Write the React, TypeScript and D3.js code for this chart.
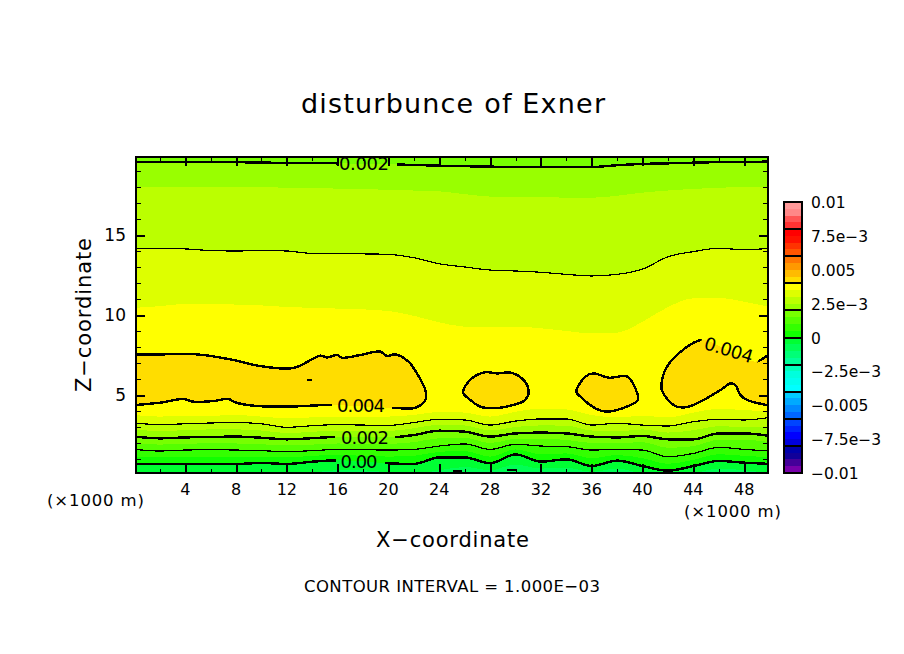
import { useEffect, useRef } from 'react'
import * as d3 from 'd3'

type Pt = [number, number]

// x positions (x1000 m) where the level curves below were read
const xStations = d3.range(0, 51, 2)

// height (z) of each level along xStations
const levelM0005 = [.05, .05, .05, .05, .05, .05, .05, .15, .3, .3, .15, .05, .3, .5, .3, .65, .4, .45, .2, .4, .1, 0, .1, .4, .3, .1]
const level0 = [.69, .69, .69, .69, .69, .75, .69, .83, .92, .85, .73, .69, 1.1, 1.1, .73, 1.29, .83, .98, .56, .9, .56, .27, .56, .88, .77, .69]
const level0005 = [1.15, 1.1, 1.15, 1.15, 1.15, 1.15, 1.1, 1.2, 1.25, 1.2, 1.15, 1.2, 1.45, 1.5, 1.15, 1.6, 1.3, 1.35, 1.05, 1.25, 1.05, .7, .95, 1.3, 1.2, 1.1]
const level001 = [1.6, 1.5, 1.56, 1.58, 1.56, 1.52, 1.46, 1.52, 1.6, 1.58, 1.56, 1.6, 1.81, 1.94, 1.6, 1.92, 1.81, 1.77, 1.56, 1.6, 1.56, 1.14, 1.35, 1.73, 1.6, 1.5]
const level0015 = [2.0, 1.9, 1.95, 1.98, 1.97, 1.92, 1.85, 1.9, 1.97, 1.95, 1.95, 2.05, 2.3, 2.32, 2.0, 2.25, 2.25, 2.2, 2.0, 2.0, 2.05, 1.7, 1.8, 2.2, 2.2, 2.05]
const level002 = [2.4, 2.29, 2.35, 2.38, 2.4, 2.33, 2.23, 2.3, 2.38, 2.36, 2.35, 2.5, 2.77, 2.71, 2.4, 2.6, 2.65, 2.6, 2.4, 2.35, 2.44, 2.23, 2.23, 2.6, 2.6, 2.44]
const level0025 = [2.85, 2.75, 2.8, 2.85, 2.85, 2.78, 2.62, 2.7, 2.78, 2.75, 2.75, 2.92, 3.15, 3.1, 2.78, 3.0, 3.1, 3.08, 2.78, 2.72, 2.85, 2.65, 2.8, 3.05, 3.0, 3.0]
const level003 = [3.25, 3.15, 3.2, 3.25, 3.28, 3.2, 2.98, 3.08, 3.15, 3.12, 3.1, 3.28, 3.48, 3.44, 3.12, 3.37, 3.5, 3.5, 3.12, 3.23, 3.12, 3.06, 3.33, 3.48, 3.44, 3.6]
const level0035 = [3.75, 3.65, 3.7, 3.7, 3.75, 3.65, 3.55, 3.6, 3.65, 3.6, 3.65, 3.75, 3.95, 3.9, 3.65, 3.95, 4.15, 4.1, 3.75, 3.6, 3.7, 3.6, 3.9, 4.15, 4.05, 4.0]

const upper0035 = [10.45, 10.55, 10.7, 10.7, 10.65, 10.6, 10.5, 10.45, 10.4, 10.35, 10.25, 9.95, 9.54, 9.27, 9.23, 9.27, 9.17, 9.0, 8.85, 8.9, 9.58, 10.5, 11.04, 11.08, 10.83, 10.5]
const upper003 = [14.17, 14.17, 14.13, 14.03, 14.0, 14.03, 14.0, 13.85, 13.85, 13.82, 13.79, 13.58, 13.2, 13.0, 12.81, 12.75, 12.67, 12.54, 12.44, 12.54, 12.87, 13.64, 13.96, 14.17, 14.08, 14.17]
const upper0025 = [18.0, 18.0, 18.0, 18.0, 18.0, 17.98, 17.96, 17.93, 17.9, 17.86, 17.83, 17.78, 17.73, 17.55, 17.4, 17.37, 17.35, 17.34, 17.33, 17.45, 17.65, 17.78, 17.88, 17.95, 18.0, 18.0]
const upper002 = [19.58, 19.58, 19.57, 19.56, 19.55, 19.53, 19.5, 19.49, 19.48, 19.45, 19.42, 19.38, 19.33, 19.3, 19.27, 19.26, 19.25, 19.25, 19.25, 19.36, 19.44, 19.48, 19.52, 19.55, 19.55, 19.6]

// 0.004 contours, [x, z]; the first and last run off the plot
const blobLeft: Pt[] = [[-1, 7.54], [2, 7.54], [4.92, 7.54], [7.54, 7.23], [9.9, 6.81], [12.53, 6.69], [14.63, 7.46], [15.16, 7.35], [15.94, 7.5], [16.34, 7.33], [17.78, 7.5], [19.35, 7.71], [19.88, 7.44], [20.54, 7.54], [21.58, 7.08], [22.24, 6.35], [22.9, 5.31], [22.9, 4.69], [22.1, 4.2], [20.28, 4.2], [15.42, 4.375], [12, 4.27], [9.38, 4.33], [7.94, 4.54], [7.41, 4.75], [6.23, 4.625], [4.65, 4.58], [3.87, 4.75], [2.03, 4.52], [-1, 4.31]]
const blobMid1: Pt[] = [[25.87, 5.17], [26.57, 6.04], [27.62, 6.42], [28.54, 6.35], [29.59, 6.4], [30.5, 6.04], [31.03, 5.31], [30.77, 4.69], [29.59, 4.33], [28.28, 4.17], [27.23, 4.27], [26.44, 4.69]]
const blobMid2: Pt[] = [[34.79, 5.2], [35.5, 6.15], [36.15, 6.35], [37.33, 6.08], [38.78, 6.15], [39.43, 5.42], [39.62, 4.69], [38.25, 4.125], [37.07, 3.96], [36.28, 4.17], [35.1, 4.9]]
const blobRight: Pt[] = [[51, 7.75], [49.93, 7.5], [48.88, 7.08], [44.82, 8.44], [44.03, 8.27], [42.19, 7.08], [41.6, 6.15], [41.52, 5.31], [42.58, 4.31], [43.63, 4.27], [46.13, 5.31], [46.92, 5.73], [47.3, 5.63], [47.7, 5], [48.23, 4.69], [51, 4.2]]

// tiny closed contours, x from, x to, z
const specks = [[13.6, 14.0, 5.92], [25.1, 25.8, 0.22], [29.3, 30.0, 0.3]]

const xTicksMajor = d3.range(4, 49, 4)
const xTicksMinor = d3.range(2, 50, 4)
const zTicksMajor = [5, 10, 15]
const zTicksMinor = [1, 2, 3, 4, 6, 7, 8, 9, 11, 12, 13, 14, 16, 17, 18, 19]

const barLevels = d3.range(-0.01, 0.01, 0.0005)
const barColors = [
  '#7700aa', '#440099', '#110099', '#0000aa',
  '#0000dd', '#0000ff', '#0022ff', '#0044ff',
  '#0066ff', '#0088ff', '#00aaff', '#00ccff',
  '#00ffff', '#00ffee', '#00ffdd', '#00ffbb',
  '#00ff99', '#00ff77', '#00ff55', '#00ff33',
  '#11ff00', '#33ff00', '#55ff00', '#77ff00',
  '#99ff00', '#bbff00', '#ddff00', '#ffff00',
  '#ffdd00', '#ffbb00', '#ff9900', '#ff7700',
  '#ff5500', '#ff3300', '#ff1100', '#ff0000',
  '#ff3333', '#ff5555', '#ff8888', '#ff9999',
]
const barTicks = [0.01, 0.0075, 0.005, 0.0025, 0, -0.0025, -0.005, -0.0075, -0.01]
const barTickLabels = ['0.01', '7.5e−3', '0.005', '2.5e−3', '0', '−2.5e−3', '−0.005', '−7.5e−3', '−0.01']

const FONT = '"DejaVu Sans", sans-serif'

export default function App() {
  const svgRef = useRef<SVGSVGElement>(null)

  useEffect(() => {
    const svg = d3.select(svgRef.current)
    svg.selectAll('*').remove()

    const x = d3.scaleLinear().domain([0.125, 49.875]).range([136, 768])
    const z = d3.scaleLinear().domain([0.125, 19.875]).range([473, 157])
    const barY = d3.scaleLinear().domain([-0.01, 0.01]).range([473, 202])
    const color = d3.scaleThreshold<number, string>()
      .domain(barLevels.slice(1).map(d => +d.toFixed(4)))
      .range(barColors)
    const band = (low: number) => color(low + 0.00025)

    const defs = svg.append('defs')
    defs.append('clipPath').attr('id', 'plot').append('rect')
      .attr('x', 136).attr('y', 157).attr('width', 632).attr('height', 316)

    // gaps in the contour lines behind the labels
    const mask = defs.append('mask').attr('id', 'gaps').attr('maskUnits', 'userSpaceOnUse')
      .attr('x', 0).attr('y', 0).attr('width', 904).attr('height', 654)
    mask.append('rect').attr('width', 904).attr('height', 654).attr('fill', '#fff')
    mask.append('rect').attr('x', 332).attr('y', 396).attr('width', 60).attr('height', 18).attr('fill', '#000')
    mask.append('rect').attr('x', 335).attr('y', 429).attr('width', 60).attr('height', 16).attr('fill', '#000')
    mask.append('rect').attr('x', 336).attr('y', 453).attr('width', 49).attr('height', 16).attr('fill', '#000')
    mask.append('rect').attr('x', 337).attr('y', 157).attr('width', 60).attr('height', 14).attr('fill', '#000')
    mask.append('rect').attr('x', 700).attr('y', 342).attr('width', 60).attr('height', 16).attr('fill', '#000')
      .attr('transform', 'rotate(17 730 350)')

    const plot = svg.append('g').attr('clip-path', 'url(#plot)')
    const fills = plot.append('g').attr('shape-rendering', 'crispEdges')

    fills.append('rect').attr('x', 136).attr('y', 157).attr('width', 632).attr('height', 316)
      .attr('fill', band(-0.001))

    const aboveCurve = (vals: number[]) => d3.area<number>()
      .x((_, i) => x(xStations[i]))
      .y0(z(19.875))
      .y1(d => z(d))
      .curve(d3.curveMonotoneX)(vals)

    const lowerBands: [number[], number][] = [
      [levelM0005, -0.0005], [level0, 0], [level0005, 0.0005], [level001, 0.001],
      [level0015, 0.0015], [level002, 0.002], [level0025, 0.0025], [level003, 0.003], [level0035, 0.0035],
    ]
    lowerBands.forEach(([vals, low]) => {
      fills.append('path').attr('d', aboveCurve(vals)).attr('fill', band(low))
    })
    const upperBands: [number[], number][] = [
      [upper0035, 0.003], [upper003, 0.0025], [upper0025, 0.002], [upper002, 0.0015],
    ]
    upperBands.forEach(([vals, low]) => {
      fills.append('path').attr('d', aboveCurve(vals)).attr('fill', band(low))
    })

    const closedLine = d3.line<Pt>().x(d => x(d[0])).y(d => z(d[1])).curve(d3.curveCatmullRomClosed.alpha(0.5))
    const edgeLine = d3.line<Pt>().x(d => x(d[0])).y(d => z(d[1])).curve(d3.curveCatmullRom.alpha(0.5))
    const blobPaths = [edgeLine(blobLeft), closedLine(blobMid1), closedLine(blobMid2), edgeLine(blobRight)]
    blobPaths.forEach(d => {
      fills.append('path').attr('d', d).attr('fill', band(0.004))
    })

    const lines = plot.append('g').attr('mask', 'url(#gaps)').attr('fill', 'none').attr('stroke', '#000')
      .attr('shape-rendering', 'crispEdges')
    const stationLine = d3.line<number>().x((_, i) => x(xStations[i])).y(d => z(d)).curve(d3.curveMonotoneX)
    const contourLines: [number[], number][] = [
      [level0, 2.4], [level001, 1.2], [level002, 2.4], [level003, 1.2], [upper003, 1.2], [upper002, 2.4],
    ]
    contourLines.forEach(([vals, w]) => {
      lines.append('path').attr('d', stationLine(vals)).attr('stroke-width', w)
    })
    blobPaths.forEach(d => {
      lines.append('path').attr('d', d).attr('stroke-width', 2.4)
    })
    specks.forEach(s => {
      lines.append('line')
        .attr('x1', x(s[0])).attr('x2', x(s[1]))
        .attr('y1', z(s[2])).attr('y2', z(s[2]))
        .attr('stroke-width', 2)
    })

    const label = (t: string, px: number, py: number, size: number, anchor = 'middle', rotate = 0, len = 0) => {
      const el = svg.append('text')
        .attr('x', px).attr('y', py)
        .attr('text-anchor', anchor)
        .attr('fill', '#000')
        .style('font-family', FONT)
        .style('font-size', `${size}px`)
        .text(t)
      if (rotate) el.attr('transform', `rotate(${rotate} ${px} ${py})`)
      if (len) el.attr('textLength', len).attr('lengthAdjust', 'spacing')
      return el
    }

    // contour labels
    label('0.004', 361, 412, 18, 'middle', 0, 48)
    label('0.002', 365, 444, 18, 'middle', 0, 48)
    label('0.00', 359, 468, 18, 'middle', 0, 37)
    label('0.002', 364, 170, 18, 'middle', 0, 50)
    label('0.004', 727, 356, 18, 'middle', 17, 50)

    // ticks on all four sides
    const axisStyle = (w: number) => (g: d3.Selection<SVGGElement, unknown, null, undefined>) => {
      g.select('.domain').remove()
      g.selectAll('.tick line').attr('stroke', '#000').attr('stroke-width', w).attr('shape-rendering', 'crispEdges')
      g.selectAll('.tick text').remove()
    }
    const axes = svg.append('g')
    const addAxis = (axis: d3.Axis<d3.NumberValue>, tx: number, ty: number, w: number) => {
      axes.append('g').attr('transform', `translate(${tx},${ty})`).call(axis as any).call(axisStyle(w) as any)
    }
    addAxis(d3.axisBottom(x).tickValues(xTicksMajor).tickSizeOuter(0).tickSizeInner(-9), 0, 473, 2)
    addAxis(d3.axisBottom(x).tickValues(xTicksMinor).tickSizeOuter(0).tickSizeInner(-4), 0, 473, 1)
    addAxis(d3.axisTop(x).tickValues(xTicksMajor).tickSizeOuter(0).tickSizeInner(-9), 0, 157, 2)
    addAxis(d3.axisTop(x).tickValues(xTicksMinor).tickSizeOuter(0).tickSizeInner(-4), 0, 157, 1)
    addAxis(d3.axisLeft(z).tickValues(zTicksMajor).tickSizeOuter(0).tickSizeInner(-9), 136, 0, 2)
    addAxis(d3.axisLeft(z).tickValues(zTicksMinor).tickSizeOuter(0).tickSizeInner(-5), 136, 0, 1)
    addAxis(d3.axisRight(z).tickValues(zTicksMajor).tickSizeOuter(0).tickSizeInner(-9), 768, 0, 2)
    addAxis(d3.axisRight(z).tickValues(zTicksMinor).tickSizeOuter(0).tickSizeInner(-5), 768, 0, 1)

    svg.append('rect').attr('x', 136).attr('y', 157).attr('width', 632).attr('height', 316)
      .attr('fill', 'none').attr('stroke', '#000').attr('stroke-width', 2.5).attr('shape-rendering', 'crispEdges')

    xTicksMajor.forEach(t => label(String(t), x(t), 495, 16))
    zTicksMajor.forEach(t => label(String(t), 126, z(t) + 6, 17, 'end'))

    // colour bar
    const bar = svg.append('g').attr('shape-rendering', 'crispEdges')
    barLevels.forEach((lev, i) => {
      bar.append('rect')
        .attr('x', 784).attr('width', 18)
        .attr('y', barY(lev + 0.0005)).attr('height', barY(lev) - barY(lev + 0.0005))
        .attr('fill', barColors[i])
    })
    d3.range(-0.008, 0.0081, 0.002).forEach(v => {
      bar.append('line').attr('x1', 784).attr('x2', 802).attr('y1', barY(v)).attr('y2', barY(v))
        .attr('stroke', '#000').attr('stroke-width', 2)
    })
    bar.append('rect').attr('x', 784).attr('y', 202).attr('width', 18).attr('height', 271)
      .attr('fill', 'none').attr('stroke', '#000').attr('stroke-width', 2.5)
    barTicks.forEach((v, i) => label(barTickLabels[i], 811, barY(v) + 6, 15.5, 'start'))

    // titles
    label('disturbunce of Exner', 453, 113, 27, 'middle', 0, 304)
    label('X−coordinate', 452.5, 547, 21, 'middle', 0, 153)
    label('Z−coordinate', 91, 315, 21, 'middle', -90, 154)
    label('CONTOUR INTERVAL = 1.000E−03', 452, 592, 16.5, 'middle', 0, 296)
    label('(×1000 m)', 95.5, 506, 16.5, 'middle', 0, 97)
    label('(×1000 m)', 732.5, 517, 16.5, 'middle', 0, 97)
  }, [])

  return <svg ref={svgRef} width={904} height={654} style={{ position: 'absolute', left: 0, top: 0, background: '#fff' }} />
}
